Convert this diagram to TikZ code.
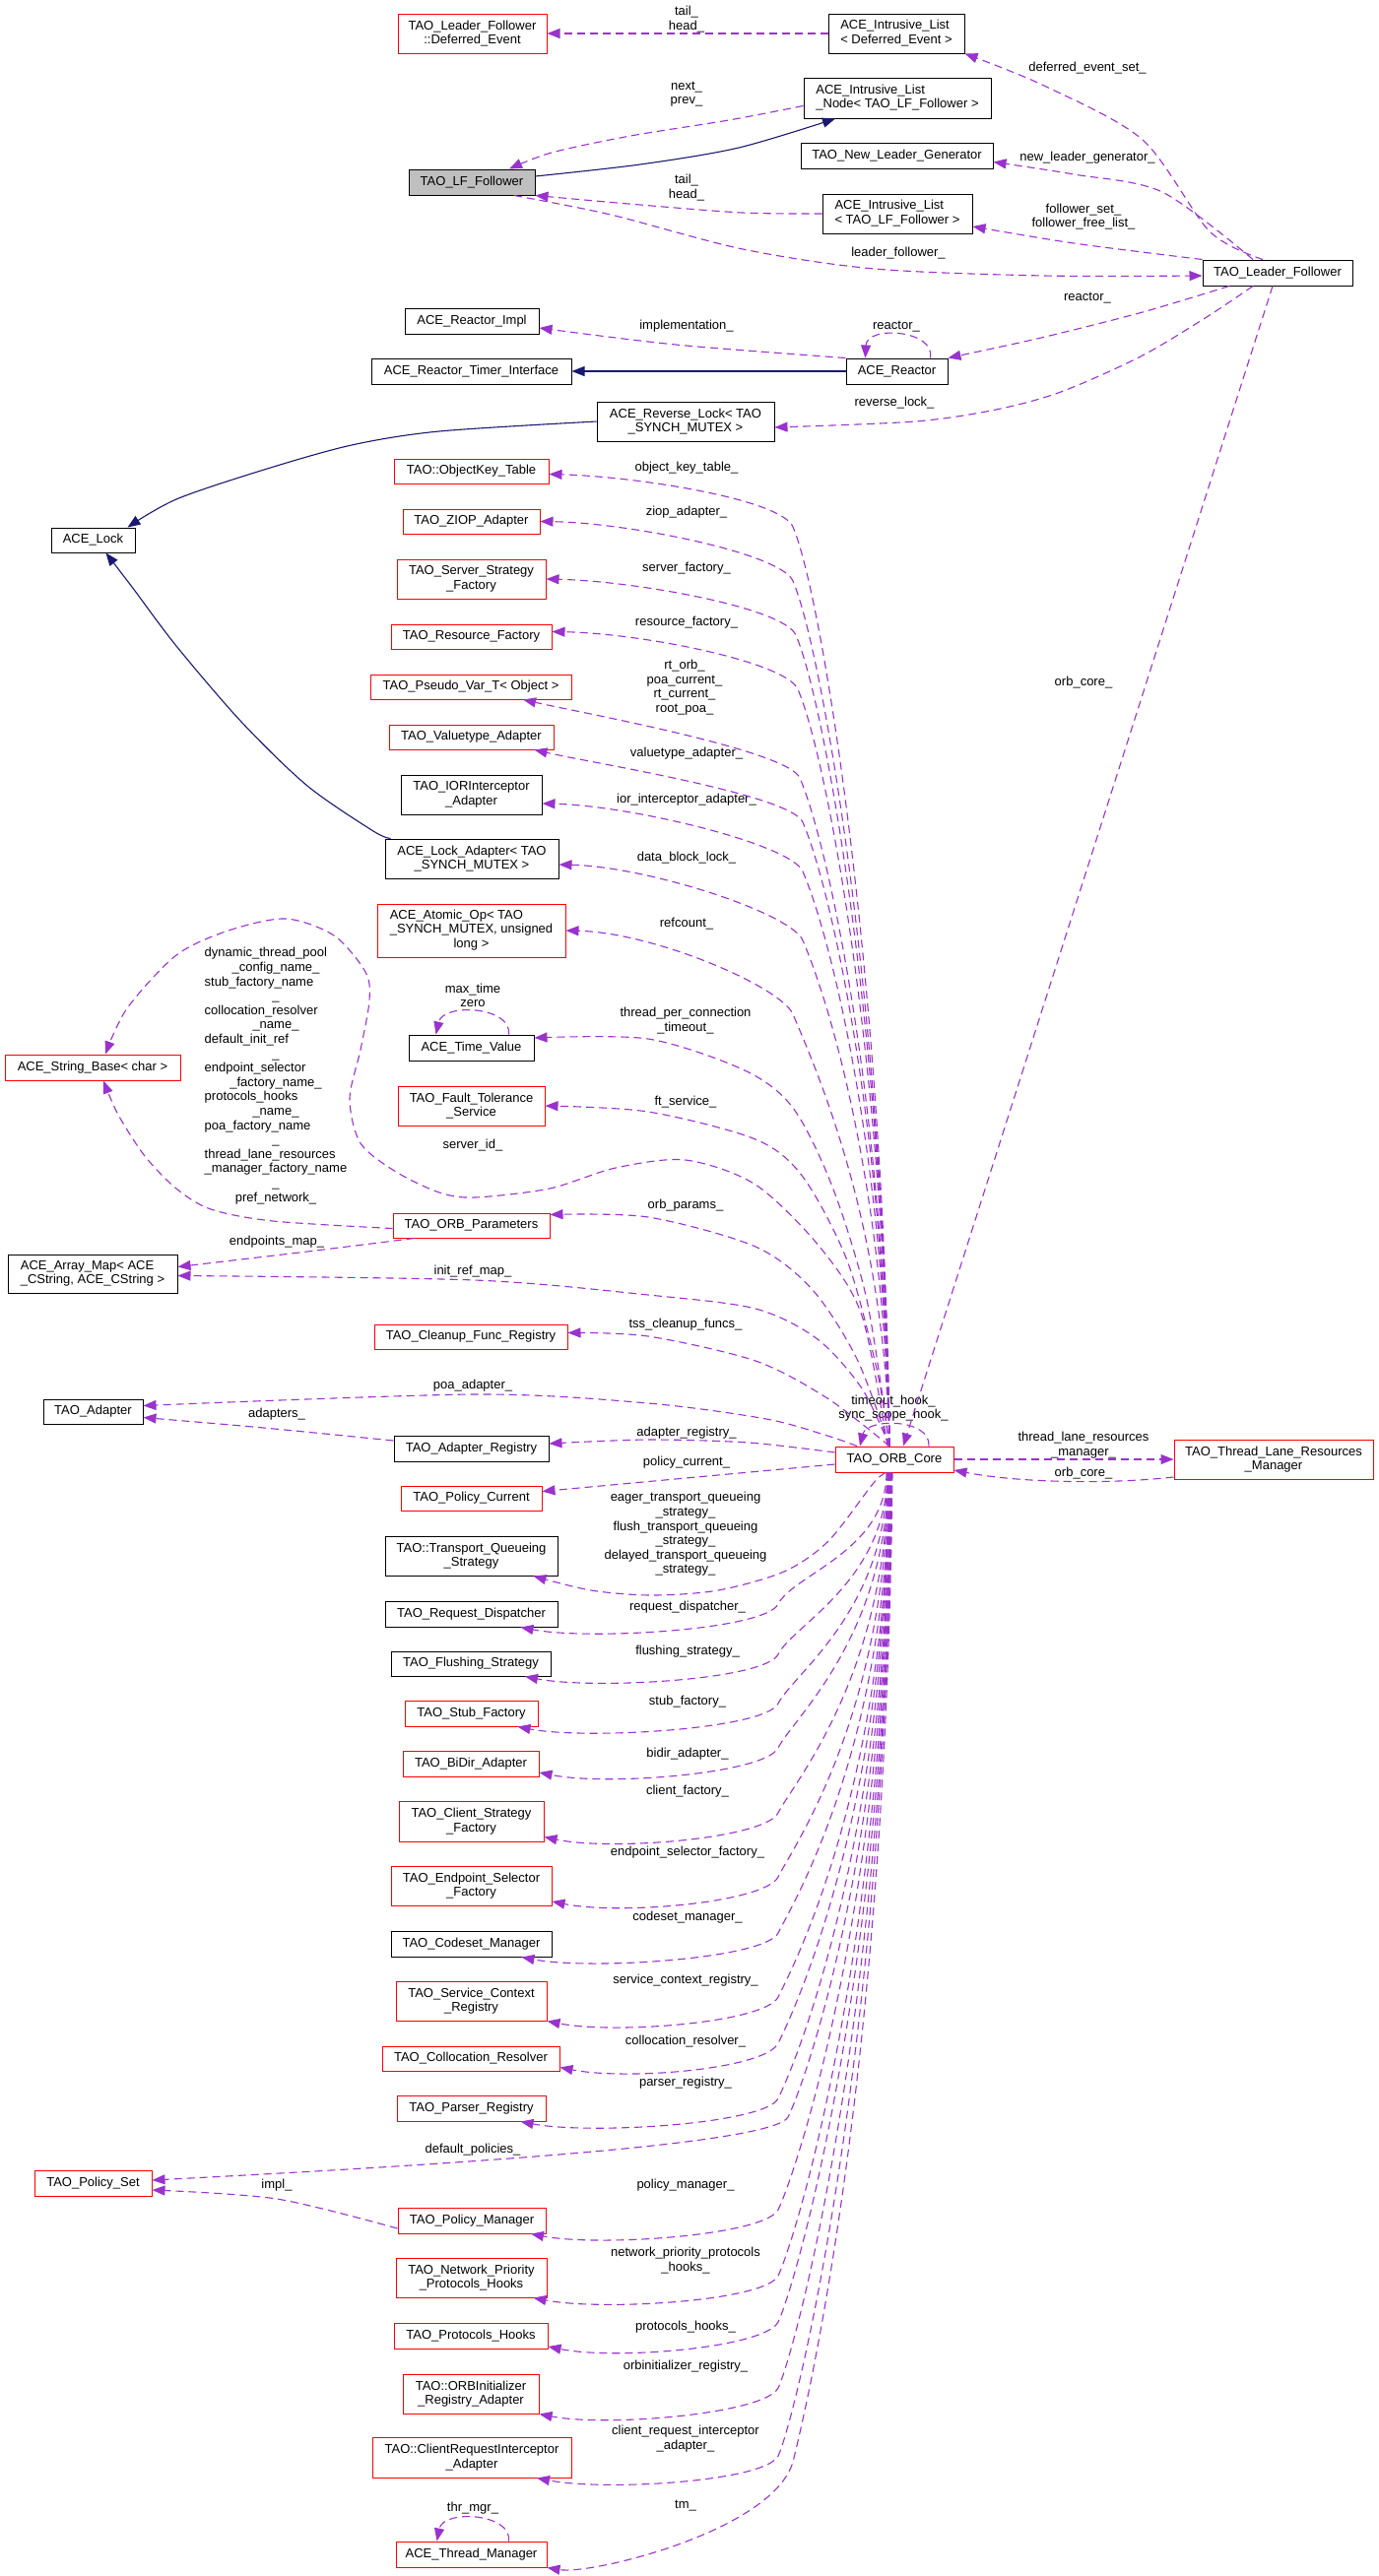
\documentclass[tikz,border=0pt]{standalone}
\usepackage{fontspec}
\setmainfont{Liberation Sans}
\usetikzlibrary{arrows.meta}
\definecolor{edgepurple}{HTML}{9A32CD}
\definecolor{inhblue}{HTML}{191970}
\definecolor{lffgray}{HTML}{BFBFBF}
\newcommand{\cenline}[1]{\multicolumn{1}{@{}c@{}}{#1}}
\begin{document}
\begin{tikzpicture}[x=1pt,y=-1pt,
  every node/.style={font=\fontsize{13}{14.6}\selectfont},
  cbox/.style={draw=black,line width=1pt,inner sep=0pt,align=center,minimum height=26pt},
  rcbox/.style={cbox,draw=red},
  lbl/.style={inner sep=0pt,align=center},
  mem/.style={draw=edgepurple,line width=1.1pt,dash pattern=on 8pt off 5pt,-{Triangle[length=13pt,width=10pt]}},
  inh/.style={draw=inhblue,line width=1.1pt,-{Triangle[length=13pt,width=10pt]}}]
\fill[white] (0,0) rectangle (1400,2616);
\useasboundingbox (0,0) rectangle (1400,2616);

% ---------- nodes ----------
\node[rcbox,minimum width=151pt,minimum height=40pt] (de) at (479.5,34) {TAO\_Leader\_Follower\\::Deferred\_Event};
\node[cbox,minimum width=138pt,minimum height=40pt] (ilde) at (910,34) {\begin{tabular}{@{}l@{}}ACE\_Intrusive\_List\\< Deferred\_Event >\end{tabular}};
\node[cbox,minimum width=190pt,minimum height=41pt] (iln) at (911,99.5) {\begin{tabular}{@{}l@{}}ACE\_Intrusive\_List\\\_Node< TAO\_LF\_Follower >\end{tabular}};
\node[cbox,fill=lffgray,minimum width=128pt] (lff) at (479,185) {TAO\_LF\_Follower};
\node[cbox,minimum width=195pt] (nlg) at (910.5,158.5) {TAO\_New\_Leader\_Generator};
\node[cbox,minimum width=152pt,minimum height=40pt] (illf) at (911,217) {\begin{tabular}{@{}l@{}}ACE\_Intrusive\_List\\< TAO\_LF\_Follower >\end{tabular}};
\node[cbox,minimum width=152pt] (tlf) at (1297,277) {TAO\_Leader\_Follower};
\node[cbox,minimum width=136pt] (rimpl) at (479,326) {ACE\_Reactor\_Impl};
\node[cbox,minimum width=203pt] (rti) at (478.5,377) {ACE\_Reactor\_Timer\_Interface};
\node[cbox,minimum width=103pt] (reactor) at (910.5,377) {ACE\_Reactor};
\node[cbox,minimum width=180pt,minimum height=40pt] (rlock) at (696,428) {ACE\_Reverse\_Lock< TAO\\\_SYNCH\_MUTEX >};
\node[cbox,minimum width=85pt,minimum height=25pt] (lock) at (94.5,548.5) {ACE\_Lock};
\node[rcbox,minimum width=157pt,minimum height=25pt] (okt) at (478.5,478.5) {TAO::ObjectKey\_Table};
\node[rcbox,minimum width=139pt,minimum height=25pt] (ziop) at (478.5,529.5) {TAO\_ZIOP\_Adapter};
\node[rcbox,minimum width=151pt,minimum height=40pt] (ssf) at (478.5,588) {TAO\_Server\_Strategy\\\_Factory};
\node[rcbox,minimum width=163pt,minimum height=25pt] (rf) at (478.5,646.5) {TAO\_Resource\_Factory};
\node[rcbox,minimum width=204pt,minimum height=25pt] (pv) at (478,697.5) {TAO\_Pseudo\_Var\_T< Object >};
\node[rcbox,minimum width=167pt,minimum height=25pt] (vta) at (478.5,748.5) {TAO\_Valuetype\_Adapter};
\node[cbox,minimum width=143pt,minimum height=40pt] (iora) at (478.5,807) {TAO\_IORInterceptor\\\_Adapter};
\node[cbox,minimum width=176pt,minimum height=40pt] (lad) at (479,872) {ACE\_Lock\_Adapter< TAO\\\_SYNCH\_MUTEX >};
\node[rcbox,minimum width=191pt,minimum height=54pt] (aop) at (478.5,945) {\begin{tabular}{@{}l@{}}ACE\_Atomic\_Op< TAO\\\_SYNCH\_MUTEX, unsigned\\\cenline{long >}\end{tabular}};
\node[cbox,minimum width=127pt] (tv) at (478.5,1064) {ACE\_Time\_Value};
\node[rcbox,minimum width=149pt,minimum height=40pt] (fts) at (478.5,1123) {TAO\_Fault\_Tolerance\\\_Service};
\node[rcbox,minimum width=178pt] (sb) at (94,1084) {ACE\_String\_Base< char >};
\node[rcbox,minimum width=159pt,minimum height=25pt] (orbp) at (478.5,1244.5) {TAO\_ORB\_Parameters};
\node[cbox,minimum width=172pt,minimum height=39pt] (am) at (94,1293.5) {\begin{tabular}{@{}l@{}}ACE\_Array\_Map< ACE\\\_CString, ACE\_CString >\end{tabular}};
\node[rcbox,minimum width=196pt,minimum height=25pt] (cfr) at (478,1357.5) {TAO\_Cleanup\_Func\_Registry};
\node[cbox,minimum width=101pt,minimum height=25pt] (ad) at (94.5,1433.5) {TAO\_Adapter};
\node[cbox,minimum width=157pt] (ar) at (478.5,1471) {TAO\_Adapter\_Registry};
\node[rcbox,minimum width=120pt] (orb) at (908,1482) {TAO\_ORB\_Core};
\node[rcbox,minimum width=202pt,minimum height=40pt] (tlrm) at (1293,1482) {TAO\_Thread\_Lane\_Resources\\\_Manager};
\node[rcbox,minimum width=143pt,minimum height=25pt] (pc) at (478.5,1521.5) {TAO\_Policy\_Current};
\node[cbox,minimum width=175pt,minimum height=40pt] (tqs) at (478.5,1580) {TAO::Transport\_Queueing\\\_Strategy};
\node[cbox,minimum width=175pt] (rd) at (478.5,1639) {TAO\_Request\_Dispatcher};
\node[cbox,minimum width=162pt,minimum height=25pt] (fs) at (478,1689.5) {TAO\_Flushing\_Strategy};
\node[rcbox,minimum width=135pt] (stf) at (478.5,1740) {TAO\_Stub\_Factory};
\node[rcbox,minimum width=138pt] (bda) at (478,1791) {TAO\_BiDir\_Adapter};
\node[rcbox,minimum width=147pt,minimum height=41pt] (csf) at (478.5,1849.5) {TAO\_Client\_Strategy\\\_Factory};
\node[rcbox,minimum width=163pt,minimum height=40pt] (esf) at (478.5,1915) {TAO\_Endpoint\_Selector\\\_Factory};
\node[cbox,minimum width=163pt] (cm) at (478.5,1974) {TAO\_Codeset\_Manager};
\node[rcbox,minimum width=153pt,minimum height=40pt] (scr) at (478.5,2032) {TAO\_Service\_Context\\\_Registry};
\node[rcbox,minimum width=180pt,minimum height=25pt] (cr) at (478,2090.5) {TAO\_Collocation\_Resolver};
\node[rcbox,minimum width=151pt] (prg) at (478.5,2141) {TAO\_Parser\_Registry};
\node[rcbox,minimum width=119pt] (ps) at (94.5,2217) {TAO\_Policy\_Set};
\node[rcbox,minimum width=150pt] (pm) at (479,2255) {TAO\_Policy\_Manager};
\node[rcbox,minimum width=153pt,minimum height=40pt] (npph) at (478.5,2313) {TAO\_Network\_Priority\\\_Protocols\_Hooks};
\node[rcbox,minimum width=156pt] (ph) at (478,2372) {TAO\_Protocols\_Hooks};
\node[rcbox,minimum width=138pt,minimum height=40pt] (oira) at (478,2431) {TAO::ORBInitializer\\\_Registry\_Adapter};
\node[rcbox,minimum width=202pt,minimum height=41pt] (cria) at (479,2495.5) {TAO::ClientRequestInterceptor\\\_Adapter};
\node[rcbox,minimum width=153pt] (tm) at (478.5,2594) {ACE\_Thread\_Manager};

% ---------- labels ----------
\node[lbl] (lt1) at (697,19.5) {tail\_\\head\_};
\node[lbl] (lnp) at (697,95.5) {next\_\\prev\_};
\node[lbl] (lt2) at (697,190.5) {tail\_\\head\_};
\node[lbl] (lde) at (1104,69) {deferred\_event\_set\_};
\node[lbl] (lnlg) at (1104,160) {new\_leader\_generator\_};
\node[lbl] (lfs) at (1100,220) {follower\_set\_\\follower\_free\_list\_};
\node[lbl] (llf) at (912,257) {leader\_follower\_};
\node[lbl] (lr1) at (1104,303) {reactor\_};
\node[lbl] (limp) at (697,331) {implementation\_};
\node[lbl] (lr2) at (910,332) {reactor\_};
\node[lbl] (lrl) at (908,409) {reverse\_lock\_};
\node[lbl] (lokt) at (697,475) {object\_key\_table\_};
\node[lbl] (lziop) at (697,520) {ziop\_adapter\_};
\node[lbl] (lsf) at (697,577) {server\_factory\_};
\node[lbl] (lrf) at (697,632) {resource\_factory\_};
\node[lbl] (lpv) at (695,698) {rt\_orb\_\\poa\_current\_\\rt\_current\_\\root\_poa\_};
\node[lbl] (lvta) at (697,765) {valuetype\_adapter\_};
\node[lbl] (lior) at (697,812) {ior\_interceptor\_adapter\_};
\node[lbl] (ldbl) at (697,871) {data\_block\_lock\_};
\node[lbl] (lrc) at (697,938) {refcount\_};
\node[lbl] (loc1) at (1100,693) {orb\_core\_};
\node[lbl] (ltpc) at (696,1036.5) {thread\_per\_connection\\\_timeout\_};
\node[lbl] (lmt) at (480,1011) {max\_time\\zero};
\node[lbl] (lft) at (696,1119) {ft\_service\_};
\node[lbl] (lsid) at (480,1163) {server\_id\_};
\node[lbl] (lbig) at (280,1093) {\begin{tabular}{@{}l@{}}dynamic\_thread\_pool\\\cenline{\_config\_name\_}\\stub\_factory\_name\\\cenline{\_}\\collocation\_resolver\\\cenline{\_name\_}\\default\_init\_ref\\\cenline{\_}\\endpoint\_selector\\\cenline{\_factory\_name\_}\\protocols\_hooks\\\cenline{\_name\_}\\poa\_factory\_name\\\cenline{\_}\\thread\_lane\_resources\\\_manager\_factory\_name\\\cenline{\_}\\\cenline{pref\_network\_}\end{tabular}};
\node[lbl] (lop) at (696,1224) {orb\_params\_};
\node[lbl] (lem) at (281,1261) {endpoints\_map\_};
\node[lbl] (lirm) at (480,1291) {init\_ref\_map\_};
\node[lbl] (ltss) at (696,1345) {tss\_cleanup\_funcs\_};
\node[lbl] (lpoa) at (480,1407) {poa\_adapter\_};
\node[lbl] (lads) at (281,1436) {adapters\_};
\node[lbl] (lth) at (907,1430) {timeout\_hook\_\\sync\_scope\_hook\_};
\node[lbl] (lareg) at (697,1455) {adapter\_registry\_};
\node[lbl] (ltlrm) at (1100,1467.5) {thread\_lane\_resources\\\_manager\_};
\node[lbl] (loc2) at (1100,1496) {orb\_core\_};
\node[lbl] (lpc) at (697,1485) {policy\_current\_};
\node[lbl] (ltq) at (696,1558) {eager\_transport\_queueing\\\_strategy\_\\flush\_transport\_queueing\\\_strategy\_\\delayed\_transport\_queueing\\\_strategy\_};
\node[lbl] (lrd) at (698,1632) {request\_dispatcher\_};
\node[lbl] (lfls) at (698,1677) {flushing\_strategy\_};
\node[lbl] (lstf) at (698,1728) {stub\_factory\_};
\node[lbl] (lbd) at (698,1781) {bidir\_adapter\_};
\node[lbl] (lcf) at (698,1819) {client\_factory\_};
\node[lbl] (lesf) at (698,1881) {endpoint\_selector\_factory\_};
\node[lbl] (lcm) at (698,1947) {codeset\_manager\_};
\node[lbl] (lscr) at (696,2011) {service\_context\_registry\_};
\node[lbl] (lcr) at (696,2073) {collocation\_resolver\_};
\node[lbl] (lprg) at (696,2115) {parser\_registry\_};
\node[lbl] (ldp) at (480,2183) {default\_policies\_};
\node[lbl] (limpl) at (281,2219) {impl\_};
\node[lbl] (lpm) at (696,2219) {policy\_manager\_};
\node[lbl] (lnpph) at (696,2295.5) {network\_priority\_protocols\\\_hooks\_};
\node[lbl] (lph) at (696,2363) {protocols\_hooks\_};
\node[lbl] (loira) at (696,2403) {orbinitializer\_registry\_};
\node[lbl] (lcria) at (696,2476.5) {client\_request\_interceptor\\\_adapter\_};
\node[lbl] (ltm) at (696,2545) {tm\_};
\node[lbl] (lthr) at (480,2547) {thr\_mgr\_};

% ---------- top edges ----------
\draw[mem] (ilde.west) -- (de.east);
\draw[mem] plot[smooth] coordinates {([yshift=-8pt]iln.west) (740,122) (640,138) (560,155) ([xshift=38pt]lff.north)};
\draw[inh] plot[smooth] coordinates {([yshift=6pt]lff.east) (650,167) (750,150) ([xshift=-63pt]iln.south)};
\draw[mem] plot[smooth] coordinates {(illf.west) (754,216) (650,208) (lff.south east)};
\draw[mem] plot[smooth] coordinates {([xshift=43pt]lff.south) (620,218) (754,253) (888,273) (1060,280) ([yshift=-3pt]tlf.west)};
\draw[mem] plot[smooth] coordinates {([xshift=-15pt]tlf.north) (1228,235) (1160,142) (1060,87) (ilde.south east)};
\draw[mem] plot[smooth] coordinates {([xshift=-25pt]tlf.north) (1180,195) (1090,177) ([yshift=-6pt]nlg.east)};
\draw[mem] plot[smooth] coordinates {(tlf.north west) (1090,247) ([yshift=-13pt]illf.east)};
\draw[mem] plot[smooth] coordinates {([xshift=-49pt]tlf.south) (1160,317) (1057,343) (reactor.north east)};
\draw[mem] plot[smooth] coordinates {(reactor.north west) (686,350) ([yshift=-7pt]rimpl.east)};
\draw[mem] ([xshift=34pt]reactor.north) .. controls (950,335) and (880,330) .. ([xshift=-32pt]reactor.north);
\draw[inh] (reactor.west) -- (rti.east);
\draw[mem] plot[smooth] coordinates {([xshift=-25pt]tlf.south) (1225,322) (1158,362) (1077,398) (1011,416) (929,428) ([yshift=-6pt]rlock.east)};
\draw[inh] plot[smooth] coordinates {(rlock.west) (446,438) (357,452) (268,477) (179,507) ([xshift=35pt]lock.north)};
\draw[inh] plot[smooth] coordinates {([xshift=6pt]lad.north west) (379,844) (312,798) (245,733) (179,656) (134,596) ([xshift=13pt]lock.south)};
\draw[mem] ([xshift=-5pt]tlf.south) -- ([xshift=9pt]orb.north);
\draw[mem] ([xshift=35pt]orb.north) .. controls (945,1440) and (880,1440) .. ([xshift=-35pt]orb.north);
\draw[mem] (orb.east) -- (tlrm.west);
\draw[mem] ([yshift=-18pt]tlrm.west) .. controls (1120,1508) and (1030,1505) .. ([yshift=-11pt]orb.east);

% ---------- ORB core upper members ----------
\draw[mem] ([xshift=-5pt]orb.north) .. controls (898,1002) and (835,605) .. (805,535) .. controls (793,507) and (647,484) .. ([yshift=-3pt]okt.east);
\draw[mem] ([xshift=-5pt]orb.north) .. controls (898,1030) and (835,660) .. (805,590) .. controls (793,562) and (639,531) .. (ziop.east);
\draw[mem] ([xshift=-5pt]orb.north) .. controls (898,1057) and (838,715) .. (808,645) .. controls (796,617) and (644,590) .. (ssf.east);
\draw[mem] ([xshift=-5pt]orb.north) .. controls (898,1085) and (840,770) .. (810,700) .. controls (798,672) and (650,643) .. ([yshift=5pt]rf.east);
\draw[mem] ([xshift=-5pt]orb.north) .. controls (898,1130) and (842,860) .. (812,790) .. controls (800,762) and (591,724) .. ([xshift=53pt]pv.south);
\draw[mem] ([xshift=-5pt]orb.north) .. controls (898,1152) and (845,905) .. (815,835) .. controls (803,807) and (602,775) .. ([xshift=64pt]vta.south);
\draw[mem] ([xshift=-5pt]orb.north) .. controls (898,1177) and (845,955) .. (815,885) .. controls (803,857) and (640,818) .. ([yshift=-9pt]iora.east);
\draw[mem] ([xshift=-5pt]orb.north) .. controls (898,1212) and (845,1025) .. (815,955) .. controls (803,927) and (657,880) .. ([yshift=-6pt]lad.east);
\draw[mem] ([xshift=-5pt]orb.north) .. controls (898,1250) and (835,1100) .. (805,1030) .. controls (793,1002) and (664,947) .. (aop.east);
\draw[mem] plot[smooth] coordinates {([xshift=-5pt]orb.north) (880,1320) (845,1205) (805,1125) (756,1087) (658,1055) ([yshift=10pt]tv.east)};
\draw[mem] plot[smooth] coordinates {([xshift=-5pt]orb.north) (890,1390) (860,1280) (815,1195) (767,1157) (658,1129) (fts.east)};
\draw[mem] plot[smooth] coordinates {([xshift=-5pt]orb.north) (870,1380) (825,1310) (767,1266) (658,1236) ([yshift=11pt]orbp.east)};
\draw[mem] plot[smooth] coordinates {([xshift=-5pt]orb.north) (875,1410) (830,1360) (767,1329) (658,1315) (482,1300) ([yshift=-2pt]am.east)};
\draw[mem] plot[smooth] coordinates {([xshift=-5pt]orb.north) (840,1420) (767,1382) (658,1357) ([yshift=4pt]cfr.east)};
\draw[mem] plot[smooth] coordinates {([xshift=-38pt]orb.north) (840,1458) (778,1441) (658,1425) (482,1416) ([yshift=6pt]ad.east)};
\draw[mem] plot[smooth] coordinates {([yshift=7pt]orb.west) (760,1465) (658,1462) ([yshift=5pt]ar.east)};
\draw[mem] ([yshift=-5pt]orb.west) -- ([yshift=7pt]pc.east);
\draw[mem] plot[smooth] coordinates {([xshift=-7pt]orb.north) (875,1336) (832,1266) (767,1203) (696,1178) (625,1186) (558,1207) (482,1216) (446,1211) (402,1190) (366,1161) (355,1116) (366,1066) (375,1016) (371,987) (339,950) (290,933) (232,945) (179,970) (129,1024) ([xshift=13pt]sb.north)};
\draw[mem] plot[smooth] coordinates {([yshift=-3pt]orbp.west) (277,1240) (214,1228) (179,1207) (147,1174) (120,1132) ([xshift=11pt]sb.south)};
\draw[mem] plot[smooth] coordinates {([xshift=-58pt]orbp.south) (312,1271) ([yshift=7pt]am.east)};
\draw[mem] plot[smooth] coordinates {([yshift=8pt]ar.west) (268,1450) ([yshift=-6pt]ad.east)};
\draw[mem] ([xshift=38pt]tv.north) .. controls (520,1022) and (450,1018) .. ([xshift=-36pt]tv.north);

% ---------- ORB core lower members ----------
\draw[mem] plot[smooth] coordinates {([xshift=-9pt]orb.south) (886,1507) (841,1565) (796,1596) (729,1615) (662,1620) (600,1615) ([xshift=63pt]tqs.south)};
\draw[mem] ([xshift=-8pt]orb.south) .. controls (900,1575) and (805,1599) .. (790,1629) .. controls (777,1655) and (599,1666) .. ([xshift=50pt]rd.south);
\draw[mem] ([xshift=-7pt]orb.south) .. controls (900,1606) and (805,1650) .. (790,1680) .. controls (777,1706) and (603,1716) .. ([xshift=55pt]fs.south);
\draw[mem] ([xshift=-7pt]orb.south) .. controls (900,1636) and (805,1700) .. (790,1730) .. controls (777,1756) and (596,1767) .. ([xshift=47pt]stf.south);
\draw[mem] ([xshift=-6pt]orb.south) .. controls (900,1663) and (805,1745) .. (790,1775) .. controls (777,1801) and (617,1814) .. ([yshift=-9pt]bda.east);
\draw[mem] ([xshift=-6pt]orb.south) .. controls (900,1703) and (805,1811) .. (790,1841) .. controls (777,1867) and (622,1880) .. ([yshift=-16pt]csf.east);
\draw[mem] ([xshift=-6pt]orb.south) .. controls (900,1742) and (805,1876) .. (790,1906) .. controls (777,1932) and (630,1945) .. ([yshift=-16pt]esf.east);
\draw[mem] ([xshift=-5pt]orb.south) .. controls (900,1776) and (805,1933) .. (790,1963) .. controls (777,1989) and (600,2001) .. ([xshift=51pt]cm.south);
\draw[mem] ([xshift=-5pt]orb.south) .. controls (900,1815) and (805,1998) .. (790,2028) .. controls (777,2054) and (625,2066) .. (scr.south east);
\draw[mem] ([xshift=-5pt]orb.south) .. controls (900,1843) and (805,2045) .. (790,2075) .. controls (777,2101) and (638,2113) .. ([yshift=-9pt]cr.east);
\draw[mem] ([xshift=-5pt]orb.south) .. controls (900,1877) and (805,2101) .. (790,2131) .. controls (777,2157) and (599,2168) .. ([xshift=50pt]prg.south);
\draw[mem] ([xshift=-4pt]orb.south) .. controls (900,1888) and (815,2120) .. (800,2150) .. controls (785,2176) and (500,2196) .. ([yshift=3pt]ps.east);
\draw[mem] ([xshift=-4pt]orb.south) .. controls (900,1942) and (805,2214) .. (790,2244) .. controls (777,2270) and (609,2282) .. ([xshift=60pt]pm.south);
\draw[mem] ([xshift=-4pt]orb.south) .. controls (900,1982) and (805,2281) .. (790,2311) .. controls (777,2337) and (611,2347) .. ([xshift=63pt]npph.south);
\draw[mem] ([xshift=-3pt]orb.south) .. controls (900,2010) and (805,2328) .. (790,2358) .. controls (777,2384) and (626,2397) .. ([yshift=-11pt]ph.east);
\draw[mem] ([xshift=-3pt]orb.south) .. controls (900,2051) and (805,2395) .. (790,2425) .. controls (777,2451) and (617,2465) .. (oira.south east);
\draw[mem] ([xshift=-3pt]orb.south) .. controls (900,2092) and (805,2464) .. (790,2494) .. controls (777,2520) and (615,2530) .. ([xshift=66pt]cria.south);
\draw[mem] ([xshift=-2pt]orb.south) .. controls (900,2100) and (820,2440) .. (805,2500) .. controls (785,2570) and (600,2615) .. (tm.south east);
\draw[mem] plot[smooth] coordinates {([yshift=-8pt]pm.west) (281,2233) ([yshift=-7pt]ps.east)};
\draw[mem] ([xshift=38pt]tm.north) .. controls (520,2552) and (450,2548) .. ([xshift=-35pt]tm.north);
\end{tikzpicture}
\end{document}
